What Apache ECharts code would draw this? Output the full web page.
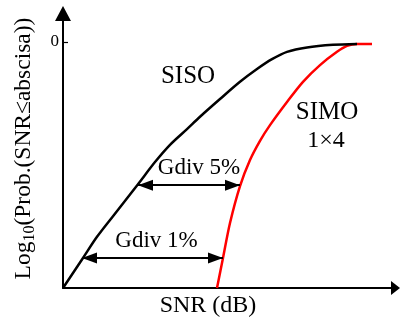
<!DOCTYPE html>
<html>
<head>
<meta charset="utf-8">
<script src="https://cdn.jsdelivr.net/npm/echarts@6/dist/echarts.min.js"></script>
<style>
html,body{margin:0;padding:0;background:#fff;}
#chart{width:400px;height:320px;}
</style>
</head>
<body>
<div id="chart"></div>
<script>
// SISO curve: SNR (arbitrary dB units) vs log10 probability
const sisoSNR  = [0, 2.0, 3.4, 5.0, 7.5, 9.2, 10.7, 12.4, 13.7, 15.7, 17.7, 19.4, 20.9, 22.4, 24.4, 27.0, 29.4];
const sisoLogP = [-5, -4.39, -3.96, -3.54, -2.89, -2.44, -2.09, -1.77, -1.52, -1.16, -0.81, -0.55, -0.35, -0.20, -0.11, -0.057, -0.04];
// SIMO 1x4 curve
const simoSNR  = [15.4, 16.0, 16.7, 17.7, 18.7, 19.7, 20.7, 22.4, 24.0, 25.7, 27.4, 28.4, 29.4, 30.9];
const simoLogP = [-5, -4.39, -3.68, -2.93, -2.40, -2.01, -1.69, -1.22, -0.81, -0.47, -0.20, -0.08, -0.04, -0.04];
// Diversity gain arrows
const gdivLabels = ['Gdiv 5%', 'Gdiv 1%'];
const gdivLevels = [-2.91, -4.39];
const gdivFrom   = [7.5, 1.9];
const gdivTo     = [17.7, 16.0];
// Axis ticks
const yTickValues = [0];
const yTickLabels = ['0'];

const FONT = 'Liberation Serif';
const zip = (a, b) => a.map((v, i) => [v, b[i]]);

const chart = echarts.init(document.getElementById('chart'), null, {renderer: 'canvas'});
chart.setOption({
  animation: false,
  backgroundColor: '#fff',
  grid: {left: 63, right: 4.5, top: 13.5, bottom: 32, containLabel: false},
  xAxis: {
    type: 'value', min: 0, max: 33.25,
    axisLine: {show: true, onZero: false, lineStyle: {color: '#000', width: 2}, symbol: ['none', 'triangle'], symbolSize: [14, 9]},
    axisTick: {show: false}, axisLabel: {show: false}, splitLine: {show: false}
  },
  yAxis: {
    type: 'value', min: -5, max: 0.579,
    axisLine: {show: true, onZero: false, lineStyle: {color: '#000', width: 2}, symbol: ['none', 'triangle'], symbolSize: [16, 15]},
    axisTick: {show: true, inside: true, length: 5, customValues: yTickValues, lineStyle: {color: '#000', width: 1.2}},
    axisLabel: {show: true, customValues: yTickValues, formatter: (v) => yTickLabels[yTickValues.indexOf(v)] ?? '',
      margin: 4, color: '#000', fontFamily: FONT, fontSize: 17},
    splitLine: {show: false}
  },
  series: [
    {type: 'line', data: zip(sisoSNR, sisoLogP), smooth: 0.3, showSymbol: false, symbol: 'none',
      lineStyle: {color: '#000', width: 2.5}, z: 3,
      markLine: {
        silent: true, animation: false,
        symbol: ['triangle', 'triangle'], symbolSize: [11, 15], symbolOffset: [[0, 7.5], [0, 7.5]],
        lineStyle: {color: '#000', width: 2, type: 'solid'},
        itemStyle: {color: '#000'},
        label: {show: false},
        data: gdivLevels.map((y, i) => [{coord: [gdivFrom[i], y]}, {coord: [gdivTo[i], y]}])
      }
    },
    {type: 'line', data: zip(simoSNR, simoLogP), smooth: 0.3, showSymbol: false, symbol: 'none',
      lineStyle: {color: '#ff0000', width: 2.5}, z: 2}
  ],
  graphic: [
    {type: 'text', x: 188, y: 76, style: {text: 'SISO', font: '25px "Liberation Serif"', fill: '#000', align: 'center', verticalAlign: 'middle'}},
    {type: 'text', x: 327, y: 112, style: {text: 'SIMO', font: '25px "Liberation Serif"', fill: '#000', align: 'center', verticalAlign: 'middle'}},
    {type: 'text', x: 326, y: 141, style: {text: '1×4', font: '24px "Liberation Serif"', fill: '#000', align: 'center', verticalAlign: 'middle'}},
    {type: 'text', x: 199, y: 167.5, style: {text: gdivLabels[0], font: '23px "Liberation Serif"', fill: '#000', align: 'center', verticalAlign: 'middle'}},
    {type: 'text', x: 156.5, y: 240.5, style: {text: gdivLabels[1], font: '23px "Liberation Serif"', fill: '#000', align: 'center', verticalAlign: 'middle'}},
    {type: 'text', x: 208, y: 305.5, style: {text: 'SNR (dB)', font: '24px "Liberation Serif"', fill: '#000', align: 'center', verticalAlign: 'middle'}},
    {type: 'text', x: 23.5, y: 148.5, rotation: Math.PI / 2,
      style: {
        text: '{m|Log}{s|10}{m|(Prob.(SNR≤abscisa))}',
        align: 'center', verticalAlign: 'middle', fill: '#000',
        rich: {
          m: {fontFamily: FONT, fontSize: 23.5, lineHeight: 28, fill: '#000'},
          s: {fontFamily: FONT, fontSize: 16, lineHeight: 16, verticalAlign: 'bottom', fill: '#000'}
        }
      }}
  ]
});
</script>
</body>
</html>
